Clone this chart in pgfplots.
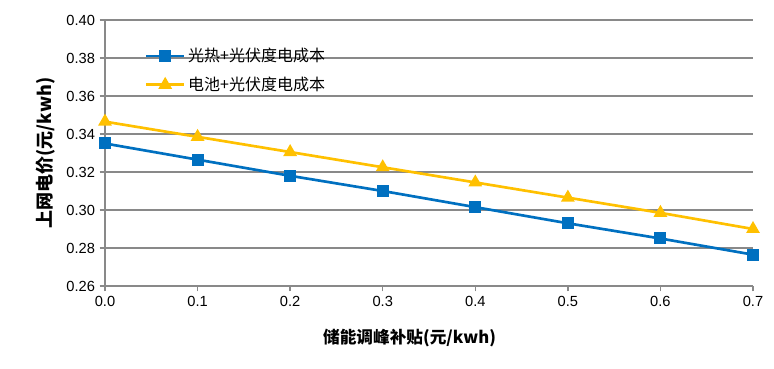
\documentclass[border=0pt]{standalone}
\usepackage{fontspec}
\setmainfont{Liberation Sans}
\newfontfamily\cjk{Noto Sans CJK SC}
\usepackage{pgfplots}
\pgfplotsset{compat=1.18}
\usetikzlibrary{calc}
\definecolor{cblue}{HTML}{0070C0}
\definecolor{cyel}{HTML}{FFC000}
\definecolor{cgrid}{HTML}{898989}
\begin{document}
\begin{tikzpicture}
\begin{axis}[
  name=ax,
  scale only axis,
  width=486pt, height=199.5pt,
  xmin=0, xmax=0.7, ymin=0.26, ymax=0.40,
  xtick={0,0.1,...,0.7},
  ytick={0.26,0.28,...,0.40},
  axis lines=left,
  axis line style={cgrid, line width=1pt, -},
  ymajorgrids,
  major grid style={cgrid, line width=1pt},
  tick align=outside,
  major tick length=4pt,
  tick style={cgrid, line width=1pt},
  /pgf/number format/assume math mode=true,
  xticklabel style={/pgf/number format/.cd, fixed, fixed zerofill, precision=1},
  yticklabel style={/pgf/number format/.cd, fixed, fixed zerofill, precision=2},
  ticklabel style={font=\fontsize{11}{13}\selectfont},
  xlabel={\cjk\bfseries 储能调峰补贴(元/kwh)},
  ylabel={\cjk\bfseries 上网电价(元/kwh)},
  xlabel style={font=\fontsize{12.5}{14}\selectfont, at={(axis description cs:0.47,-0.145)}, anchor=north},
  ylabel style={font=\fontsize{13.5}{15}\selectfont, at={(axis description cs:-0.07,0.5)}, anchor=south},
  legend style={draw=none, fill=none, at={(0.055,0.915)}, anchor=north west,
    font=\cjk\fontsize{12}{14}\selectfont, row sep=6pt},
  legend cell align=left,
  legend image code/.code={\draw[mark repeat=2,mark phase=2,#1] plot coordinates {(0cm,0cm) (0.5cm,0cm) (1cm,0cm)};},
  clip=false,
]
\addplot[cblue, line width=2pt, mark=square*, mark size=3.5pt, mark options={solid}] coordinates {
(0.0,0.3350) (0.1,0.3265) (0.2,0.3180) (0.3,0.3100) (0.4,0.3015) (0.5,0.2930) (0.6,0.2850) (0.7,0.2765)};
\addlegendentry{光热+光伏度电成本}
\addplot[cyel, line width=2pt, mark=triangle*, mark size=4pt, mark options={solid}] coordinates {
(0.0,0.3465) (0.1,0.3385) (0.2,0.3305) (0.3,0.3225) (0.4,0.3145) (0.5,0.3065) (0.6,0.2985) (0.7,0.2900)};
\addlegendentry{电池+光伏度电成本}
\end{axis}
\useasboundingbox ($(ax.south west)+(-78.75pt,-62.25pt)$) rectangle ($(ax.north east)+(15.75pt,15pt)$);
\end{tikzpicture}
\end{document}
